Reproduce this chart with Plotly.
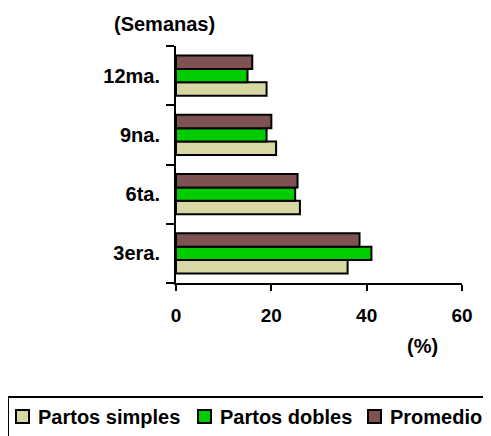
import plotly.graph_objects as go

semanas = ["3era.", "6ta.", "9na.", "12ma."]
partos_simples = [36, 26, 21, 19]
partos_dobles = [41, 25, 19, 15]
promedio = [38.5, 25.5, 20, 16]

FONT = "Liberation Sans, Arial, sans-serif"
W, H = 491, 436
OFF = 8  # page body margin shifts the figure by 8px
L, T = 176 - OFF, 46 - OFF
R, B = W - (462 - OFF), H - (283 - OFF)
PW, PH = W - L - R, H - T - B


def px(x):
    # screen x -> paper coordinate
    return (x - OFF - L) / PW


def py(y):
    return (H - B - (y - OFF)) / PH


series = [
    ("Partos simples", partos_simples, "#d8d8a4"),
    ("Partos dobles", partos_dobles, "#00cc00"),
    ("Promedio", promedio, "#7e5252"),
]

fig = go.Figure()
for name, vals, color in series:
    fig.add_trace(go.Bar(
        y=semanas,
        x=vals,
        name=name,
        orientation="h",
        marker=dict(color=color, line=dict(color="black", width=2)),
    ))

# legend drawn by hand so it can run off the right edge like the original
shapes = [dict(type="rect", xref="paper", yref="paper",
               x0=px(8), x1=px(510), y0=py(397), y1=py(460),
               line=dict(color="black", width=2), fillcolor="rgba(0,0,0,0)")]
annotations = []
legend_x = [16, 198, 368]
for (name, vals, color), lx in zip(series, legend_x):
    shapes.append(dict(type="rect", xref="paper", yref="paper",
                       x0=px(lx), x1=px(lx + 13), y0=py(410), y1=py(423),
                       line=dict(color="black", width=2), fillcolor=color))
    annotations.append(dict(text=name, xref="paper", yref="paper",
                            x=px(lx + 20), y=py(416.5), xanchor="left", yanchor="middle",
                            showarrow=False,
                            font=dict(family=FONT, size=20, weight="bold")))

annotations += [
    dict(text="(Semanas)", xref="paper", yref="paper", x=px(164.5), y=py(24),
         xanchor="center", yanchor="middle", showarrow=False,
         font=dict(family=FONT, size=20, weight="bold")),
    dict(text="(%)", xref="paper", yref="paper", x=px(422.5), y=py(346),
         xanchor="center", yanchor="middle", showarrow=False,
         font=dict(family=FONT, size=20, weight="bold")),
]

fig.update_layout(
    width=W,
    height=H,
    margin=dict(l=L, r=R, t=T, b=B),
    paper_bgcolor="white",
    plot_bgcolor="white",
    barmode="group",
    bargap=0.32,
    bargroupgap=0,
    font=dict(family=FONT, size=18, color="black"),
    showlegend=False,
    shapes=shapes,
    annotations=annotations,
    xaxis=dict(
        range=[0, 60],
        tickvals=[0, 20, 40, 60],
        showgrid=False,
        zeroline=False,
        showline=True,
        linecolor="black",
        linewidth=2,
        ticks="outside",
        ticklen=6,
        tickwidth=2,
        tickcolor="black",
        tickfont=dict(family=FONT, size=19, weight="bold"),
        ticklabelstandoff=8,
        automargin=False,
    ),
    yaxis=dict(
        type="category",
        showgrid=False,
        showline=True,
        linecolor="black",
        linewidth=2,
        ticks="outside",
        tickson="boundaries",
        ticklen=8,
        tickwidth=2,
        tickcolor="black",
        tickfont=dict(family=FONT, size=20, weight="bold"),
        ticklabelstandoff=10,
        automargin=False,
    ),
)

fig.write_html("out.html")
